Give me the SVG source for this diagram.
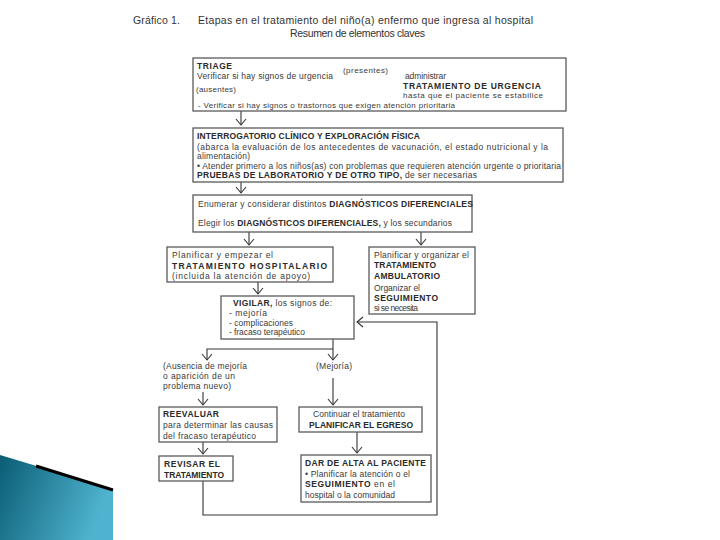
<svg xmlns="http://www.w3.org/2000/svg" width="720" height="540" viewBox="0 0 720 540">
<defs>
<style>
.t{font-family:"Liberation Sans",Arial,sans-serif;font-size:8.5px;fill:#3a3a3a}
.b{font-weight:bold;fill:#2a2a2a}
.h{font-family:"Liberation Sans",Arial,sans-serif;font-size:10.5px;fill:#333}
.box{fill:#fff;stroke:#5a5a5a;stroke-width:1.3}
.ln{fill:none;stroke:#333;stroke-width:1.1}
</style>
<marker id="ah" viewBox="-7 -6 8 12" refX="0" refY="0" markerWidth="8" markerHeight="12" markerUnits="userSpaceOnUse" orient="auto">
<path d="M-6,-5 L0,0 L-6,5" fill="none" stroke="#333" stroke-width="1.1"/>
</marker>
<linearGradient id="tg" x1="0" y1="0" x2="1" y2="0.3">
<stop offset="0" stop-color="#0a5c74"/>
<stop offset="1" stop-color="#4fb3cf"/>
</linearGradient>
</defs>
<rect width="720" height="540" fill="#fff"/>

<g id="decor">
<polygon points="0,455 113,489 113,540 0,540" fill="url(#tg)"/>
<line x1="36" y1="466" x2="113" y2="490" stroke="#000" stroke-width="3"/>
</g>

<g id="title">
<text class="h" x="133" y="24" textLength="47" lengthAdjust="spacing">Gráfico 1.</text>
<text class="h" x="198" y="24" textLength="335" lengthAdjust="spacing">Etapas en el tratamiento del niño(a) enfermo que ingresa al hospital</text>
<text class="h" x="290" y="37" textLength="135" lengthAdjust="spacing">Resumen de elementos claves</text>
</g>

<g id="connectors">
<path class="ln" d="M338,77 H401" marker-end="url(#ah)"/>
<path class="ln" d="M241,81 V100" marker-end="url(#ah)"/>
<path class="ln" d="M241,111 V125" marker-end="url(#ah)"/>
<path class="ln" d="M241,182 V193" marker-end="url(#ah)"/>
<path class="ln" d="M249,232 V245" marker-end="url(#ah)"/>
<path class="ln" d="M421,232 V245" marker-end="url(#ah)"/>
<path class="ln" d="M258,282 V294" marker-end="url(#ah)"/>
<path class="ln" d="M333,339 V360" marker-end="url(#ah)"/>
<path class="ln" d="M333,349 H207 V360" marker-end="url(#ah)"/>
<path class="ln" d="M203,392 V405" marker-end="url(#ah)"/>
<path class="ln" d="M333,378 V405" marker-end="url(#ah)"/>
<path class="ln" d="M203,442 V454" marker-end="url(#ah)"/>
<path class="ln" d="M357,432 V453" marker-end="url(#ah)"/>
<path class="ln" d="M203,481 V515 H437 V322 H357" marker-end="url(#ah)"/>
</g>

<g id="triage">
<rect class="box" x="193" y="58" width="373" height="53"/>
<text class="t b" x="197" y="69" textLength="35" lengthAdjust="spacing">TRIAGE</text>
<text class="t" x="197" y="79" textLength="136" lengthAdjust="spacing">Verificar si hay signos de urgencia</text>
<text class="t" x="343" y="73" textLength="45" lengthAdjust="spacing" style="font-size:8px">(presentes)</text>
<text class="t" x="405" y="79" textLength="41" lengthAdjust="spacing">administrar</text>
<text class="t b" x="403" y="89" textLength="138" lengthAdjust="spacing">TRATAMIENTO DE URGENCIA</text>
<text class="t" x="403" y="98" textLength="140" lengthAdjust="spacing" style="font-size:8px">hasta que el paciente se estabilice</text>
<text class="t" x="196" y="92" textLength="40" lengthAdjust="spacing" style="font-size:8px">(ausentes)</text>
<text class="t" x="198" y="108" textLength="257" lengthAdjust="spacing" style="font-size:8px">- Verificar si hay signos o trastornos que exigen atención prioritaria</text>
</g>

<g id="interrogatorio">
<rect class="box" x="193" y="128" width="370" height="54"/>
<text class="t b" x="197" y="139" textLength="223" lengthAdjust="spacing">INTERROGATORIO CLÍNICO Y EXPLORACIÓN FÍSICA</text>
<text class="t" x="197" y="150" textLength="351" lengthAdjust="spacing">(abarca la evaluación de los antecedentes de vacunación, el estado nutricional y la</text>
<text class="t" x="197" y="159" textLength="53" lengthAdjust="spacing">alimentación)</text>
<text class="t" x="197" y="169" textLength="364" lengthAdjust="spacing">• Atender primero a los niños(as) con problemas que requieren atención urgente o prioritaria</text>
<text class="t" x="197" y="178" textLength="280" lengthAdjust="spacing"><tspan class="b">PRUEBAS DE LABORATORIO Y DE OTRO TIPO,</tspan> de ser necesarias</text>
</g>

<g id="diagnosticos">
<rect class="box" x="193" y="195" width="279" height="37"/>
<text class="t" x="198" y="207" textLength="275" lengthAdjust="spacing">Enumerar y considerar distintos <tspan class="b">DIAGNÓSTICOS DIFERENCIALES</tspan></text>
<text class="t" x="198" y="226" textLength="254" lengthAdjust="spacing">Elegir los <tspan class="b">DIAGNÓSTICOS DIFERENCIALES,</tspan> y los secundarios</text>
</g>

<g id="hospitalario">
<rect class="box" x="167" y="247" width="166" height="35"/>
<text class="t" x="172" y="258" textLength="101" lengthAdjust="spacing">Planificar y empezar el</text>
<text class="t b" x="172" y="269" textLength="155" lengthAdjust="spacing">TRATAMIENTO HOSPITALARIO</text>
<text class="t" x="172" y="279" textLength="138" lengthAdjust="spacing">(incluida la atención de apoyo)</text>
</g>

<g id="ambulatorio">
<rect class="box" x="369" y="247" width="106" height="67"/>
<text class="t" x="374" y="258" textLength="95" lengthAdjust="spacing">Planificar y organizar el</text>
<text class="t b" x="374" y="268" textLength="62" lengthAdjust="spacing">TRATAMIENTO</text>
<text class="t b" x="374" y="279" textLength="66" lengthAdjust="spacing">AMBULATORIO</text>
<text class="t" x="374" y="291" textLength="46" lengthAdjust="spacing">Organizar el</text>
<text class="t b" x="374" y="301" textLength="64" lengthAdjust="spacing">SEGUIMIENTO</text>
<text class="t" x="374" y="311" textLength="44" lengthAdjust="spacing">si se necesita</text>
</g>

<g id="vigilar">
<rect class="box" x="221" y="296" width="133" height="43"/>
<text class="t" x="233" y="306" textLength="99" lengthAdjust="spacing"><tspan class="b">VIGILAR,</tspan> los signos de:</text>
<text class="t" x="229" y="316" textLength="38" lengthAdjust="spacing">- mejoría</text>
<text class="t" x="229" y="326" textLength="64" lengthAdjust="spacing">- complicaciones</text>
<text class="t" x="229" y="335" textLength="76" lengthAdjust="spacing">- fracaso terapéutico</text>
</g>

<g id="ausencia">
<text class="t" x="163" y="369" textLength="84" lengthAdjust="spacing">(Ausencia de mejoría</text>
<text class="t" x="163" y="379" textLength="72" lengthAdjust="spacing">o aparición de un</text>
<text class="t" x="163" y="389" textLength="68" lengthAdjust="spacing">problema nuevo)</text>
</g>

<g id="mejoria">
<text class="t" x="316" y="369" textLength="36" lengthAdjust="spacing">(Mejoría)</text>
</g>

<g id="reevaluar">
<rect class="box" x="159" y="407" width="118" height="35"/>
<text class="t b" x="163" y="417" textLength="56" lengthAdjust="spacing">REEVALUAR</text>
<text class="t" x="163" y="428" textLength="110" lengthAdjust="spacing">para determinar las causas</text>
<text class="t" x="163" y="439" textLength="93" lengthAdjust="spacing">del fracaso terapéutico</text>
</g>

<g id="continuar">
<rect class="box" x="299" y="407" width="123" height="25"/>
<text class="t" x="313" y="417" textLength="92" lengthAdjust="spacing">Continuar el tratamiento</text>
<text class="t b" x="309" y="428" textLength="104" lengthAdjust="spacing">PLANIFICAR EL EGRESO</text>
</g>

<g id="revisar">
<rect class="box" x="159" y="456" width="74" height="25"/>
<text class="t b" x="164" y="467" textLength="56" lengthAdjust="spacing">REVISAR EL</text>
<text class="t b" x="164" y="478" textLength="60" lengthAdjust="spacing">TRATAMIENTO</text>
</g>

<g id="alta">
<rect class="box" x="301" y="455" width="130" height="47"/>
<text class="t b" x="305" y="466" textLength="121" lengthAdjust="spacing">DAR DE ALTA AL PACIENTE</text>
<text class="t" x="305" y="477" textLength="105" lengthAdjust="spacing">• Planificar la atención o el</text>
<text class="t" x="305" y="487" textLength="90" lengthAdjust="spacing"><tspan class="b">SEGUIMIENTO</tspan> en el</text>
<text class="t" x="305" y="498" textLength="90" lengthAdjust="spacing">hospital o la comunidad</text>
</g>
</svg>
